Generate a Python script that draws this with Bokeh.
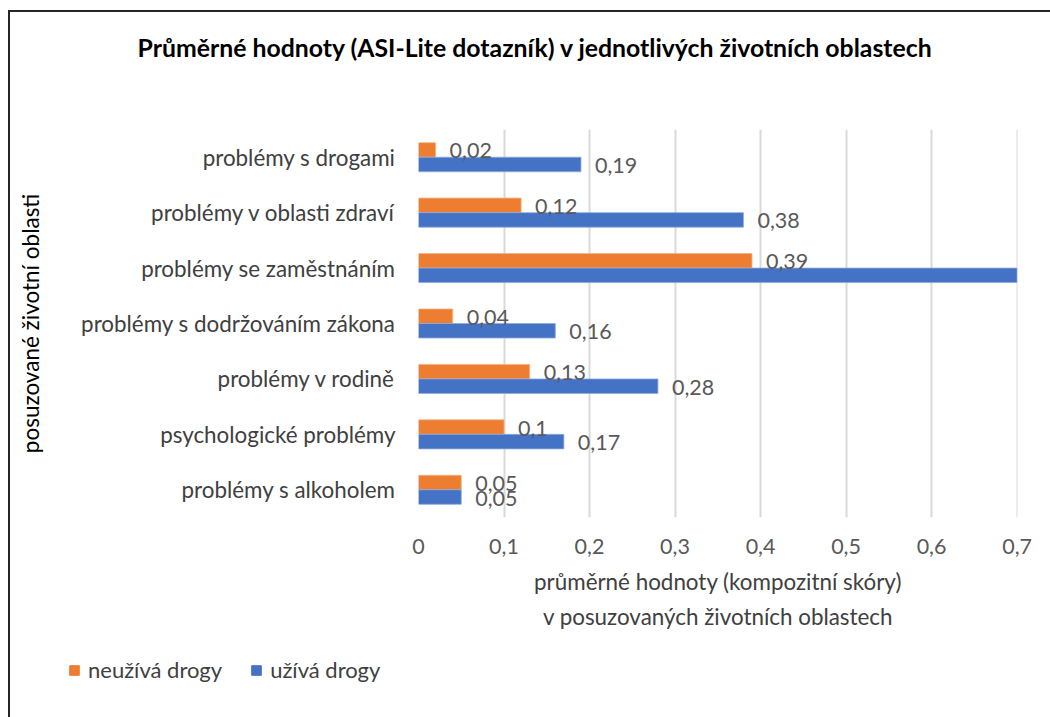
from bokeh.plotting import figure
from bokeh.models import ColumnDataSource, LabelSet, Range1d, FixedTicker, Legend, LegendItem
from bokeh.layouts import column
from bokeh.core.properties import value
from bokeh.embed import file_html
from bokeh.resources import INLINE

# ---- data ----
categories = [
    "problémy s alkoholem",
    "psychologické problémy",
    "problémy v rodině",
    "problémy s dodržováním zákona",
    "problémy se zaměstnáním",
    "problémy v oblasti zdraví",
    "problémy s drogami",
]
neuziva = [0.05, 0.1, 0.13, 0.04, 0.39, 0.12, 0.02]
uziva = [0.05, 0.17, 0.28, 0.16, 0.70, 0.38, 0.19]
series_names = ["neužívá drogy", "užívá drogy"]
x_tick_values = [0.0, 0.1, 0.2, 0.3, 0.4, 0.5, 0.6, 0.7]
x_tick_labels = ["0", "0,1", "0,2", "0,3", "0,4", "0,5", "0,6", "0,7"]

title_text = "Průměrné hodnoty (ASI-Lite dotazník) v jednotlivých životních oblastech"
x_title = "průměrné hodnoty (kompozitní skóry)\nv posuzovaných životních oblastech"
y_title = "posuzované životní oblasti"

ORANGE = "#ED7D31"
BLUE = "#4472C4"
FONT = "Lato"
W = 1050
TOP_H, MAIN_H, LEG_H = 84, 573, 60
FRAME_TOP, FRAME_H = 129, 388
LINE = "#262626"


def fmt(v):
    return ("%g" % v).replace(".", ",")


def no_align(fig):
    try:
        fig.frame_align = False
    except Exception:
        pass


def bare(fig):
    fig.axis.visible = False
    fig.grid.visible = False
    fig.outline_line_color = None
    fig.border_fill_alpha = 0
    fig.background_fill_color = None


idx = list(range(len(categories)))
bar_h = 0.262
src_o = ColumnDataSource(dict(y=[i + bar_h / 2 for i in idx], v=neuziva,
                              t=[fmt(v) for v in neuziva]))
src_b = ColumnDataSource(dict(y=[i - bar_h / 2 for i in idx], v=uziva,
                              t=[fmt(v) for v in uziva]))

# ---------------- title strip ----------------
pt = figure(width=W, height=TOP_H, output_backend="svg", toolbar_location=None,
            x_range=Range1d(0, W), y_range=Range1d(0, TOP_H), min_border=0)
bare(pt)
no_align(pt)
pt.styles = {
    "background": f"linear-gradient({LINE},{LINE}) 8px 10px / 2px {TOP_H}px no-repeat, "
                  f"linear-gradient({LINE},{LINE}) 8px 10px / {W}px 2px no-repeat, #ffffff"
}
pt.text(x=[535], y=[TOP_H - 47], text=[title_text], text_align="center",
        text_baseline="middle", text_font=value(FONT), text_font_size="24.8px",
        text_font_style="bold", text_color="#000000")

# ---------------- main chart ----------------
p = figure(width=W, height=MAIN_H, output_backend="svg", toolbar_location=None,
           x_range=Range1d(0, 0.7005), y_range=Range1d(-0.5, 6.5),
           min_border_left=418, min_border_right=33, min_border_top=FRAME_TOP - TOP_H,
           min_border_bottom=MAIN_H - (FRAME_TOP - TOP_H) - FRAME_H)
no_align(p)
p.border_fill_alpha = 0
p.background_fill_color = None
p.outline_line_color = None
p.styles = {
    "background": f"linear-gradient({LINE},{LINE}) 8px 0px / 2px {MAIN_H}px no-repeat, #ffffff"
}

r_o = p.hbar(y="y", right="v", left=0, height=bar_h, source=src_o, fill_color=ORANGE,
             line_color="#F4B183", line_width=0.8)
r_b = p.hbar(y="y", right="v", left=0, height=bar_h, source=src_b, fill_color=BLUE,
             line_color="#8FAADC", line_width=0.8)

for s in (src_o, src_b):
    p.add_layout(LabelSet(x="v", y="y", text="t", source=s, x_offset=14, y_offset=-1,
                          text_baseline="middle", text_align="left",
                          text_font=value(FONT), text_font_size="21.5px",
                          text_color="#595959"))

# x axis
xa = p.xaxis[0]
xa.ticker = FixedTicker(ticks=x_tick_values)
xa.major_label_overrides = dict(zip(x_tick_values, x_tick_labels))
xa.axis_line_color = None
xa.major_tick_line_color = None
xa.minor_tick_line_color = None
xa.major_tick_out = 0
xa.major_tick_in = 0
xa.major_label_standoff = 21
xa.major_label_text_font = FONT
xa.major_label_text_font_size = "21.5px"
xa.major_label_text_color = "#595959"
xa.axis_label = x_title
xa.axis_label_standoff = 11
xa.axis_label_text_font = FONT
xa.axis_label_text_font_size = "22.4px"
xa.axis_label_text_font_style = "normal"
xa.axis_label_text_color = "#404040"
xa.axis_label_text_line_height = 1.3

# y axis
ya = p.yaxis[0]
ya.ticker = FixedTicker(ticks=idx)
ya.major_label_overrides = {i: c for i, c in zip(idx, categories)}
ya.axis_line_color = None
ya.major_tick_line_color = None
ya.minor_tick_line_color = None
ya.major_tick_out = 0
ya.major_tick_in = 0
ya.major_label_standoff = 23
ya.major_label_text_font = FONT
ya.major_label_text_font_size = "22.4px"
ya.major_label_text_color = "#404040"
ya.axis_label = y_title
ya.axis_label_standoff = 34
ya.axis_label_text_font = FONT
ya.axis_label_text_font_size = "22.5px"
ya.axis_label_text_font_style = "normal"
ya.axis_label_text_color = "#000000"

# grid
p.xgrid.grid_line_color = "#D9D9D9"
p.xgrid.grid_line_width = 2
p.ygrid.grid_line_color = None

# ---------------- legend strip ----------------
pl = figure(width=W, height=LEG_H, output_backend="svg", toolbar_location=None,
            x_range=Range1d(0, W), y_range=Range1d(0, LEG_H), min_border=0)
bare(pl)
no_align(pl)
pl.styles = {
    "background": f"linear-gradient({LINE},{LINE}) 8px 0px / 2px {LEG_H}px no-repeat, #ffffff"
}
# legend swatches reuse the series' data, drawn hidden
lo = pl.hbar(y="y", right="v", left=0, height=bar_h, source=src_o,
             fill_color=ORANGE, line_color=ORANGE, visible=False)
lb = pl.hbar(y="y", right="v", left=0, height=bar_h, source=src_b,
             fill_color=BLUE, line_color=BLUE, visible=False)
lg = Legend(items=[LegendItem(label=series_names[0], renderers=[lo]),
                   LegendItem(label=series_names[1], renderers=[lb])],
            location=(68, 34), orientation="horizontal")
lg.glyph_width = 12
lg.glyph_height = 12
lg.label_standoff = 8
lg.spacing = 28
lg.padding = 0
lg.margin = 0
lg.border_line_color = None
lg.background_fill_alpha = 0
lg.inactive_fill_alpha = 0
lg.label_text_font = FONT
lg.label_text_font_size = "22px"
lg.label_text_color = "#404040"
lg.label_height = 24
pl.add_layout(lg, "center")

layout = column(pt, p, pl, spacing=0)
open("out.html", "w").write(file_html(layout, INLINE))
